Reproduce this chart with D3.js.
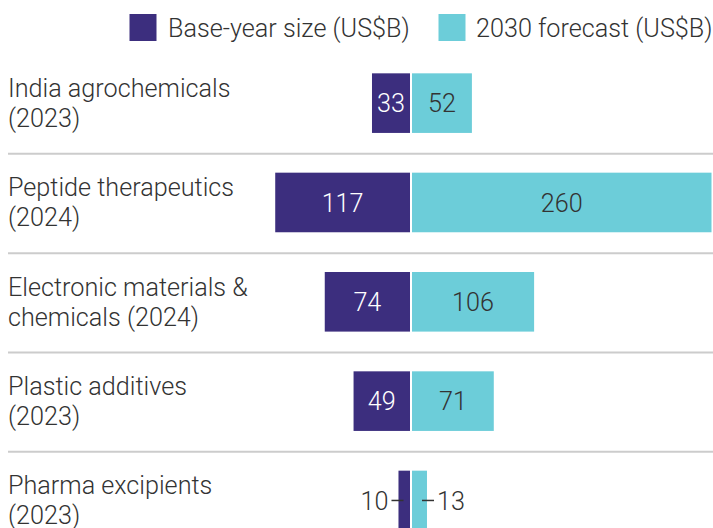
<!DOCTYPE html>
<html>
<head>
<meta charset="utf-8">
<script src="https://cdn.jsdelivr.net/npm/d3@7"></script>
<style>
  body { margin: 0; background: #fff; }
  svg { display: block; font-family: Roboto, "Noto Sans", sans-serif; font-weight: 300; }
</style>
</head>
<body>
<div id="chart"></div>
<script>
// data
const categories = [
    ['India agrochemicals', '(2023)'],
    ['Peptide therapeutics', '(2024)'],
    ['Electronic materials &', 'chemicals (2024)'],
    ['Plastic additives', '(2023)'],
    ['Pharma excipients', '(2023)']
];
const baseValues = [33, 117, 74, 49, 10];
const forecastValues = [52, 260, 106, 71, 13];
const seriesNames = ['Base-year size (US$B)', '2030 forecast (US$B)'];

const width = 713, height = 528;
const purple = '#3c2e7e';
const cyan = '#6ccdd9';
const textColor = '#333';
const centerL = 410, centerR = 412;
const fontSize = '25.2px';

const svg = d3.select('#chart')
    .append('svg')
    .attr('width', width)
    .attr('height', height);

const rows = categories.map((c, i) => ({
    label: c, base: baseValues[i], forecast: forecastValues[i], key: c[0]
}));

const y = d3.scaleBand()
    .domain(rows.map(d => d.key))
    .range([33.6, 570])
    .paddingInner(0.4)
    .paddingOuter(0.4);

// magnitude scale, shared by both sides
const x = d3.scaleLinear()
    .domain([0, 260])
    .range([0, 299.5]);

// legend
const legend = svg.append('g');
const legendX = [129.5, 438.5];
const textX = [168, 476];
[purple, cyan].forEach((col, i) => {
    legend.append('rect')
        .attr('x', legendX[i]).attr('y', 14)
        .attr('width', 27).attr('height', 27)
        .attr('fill', col);
    legend.append('text')
        .attr('x', textX[i]).attr('y', 37)
        .style('font-size', fontSize)
        .attr('fill', textColor)
        .text(seriesNames[i]);
});

// separators
svg.selectAll('.sep')
    .data(rows.slice(0, -1))
    .enter().append('line')
    .attr('class', 'sep')
    .attr('x1', 8).attr('x2', width)
    .attr('y1', d => y(d.key) + y.bandwidth() + y.step() * 0.2 + 1)
    .attr('y2', d => y(d.key) + y.bandwidth() + y.step() * 0.2 + 1)
    .attr('stroke', '#cccccc')
    .attr('stroke-width', 2);

// category labels
const labels = svg.selectAll('.cat')
    .data(rows)
    .enter().append('text')
    .attr('class', 'cat')
    .attr('x', 8)
    .attr('fill', textColor)
    .style('font-size', fontSize);

labels.each(function(d) {
    const cy = y(d.key) + y.bandwidth() / 2;
    const t = d3.select(this);
    t.append('tspan').attr('x', 8).attr('y', cy - 6).text(d.label[0]);
    t.append('tspan').attr('x', 8).attr('y', cy + 24).text(d.label[1]);
});

// bars
svg.selectAll('.bar-base')
    .data(rows)
    .enter().append('rect')
    .attr('class', 'bar-base')
    .attr('x', d => centerL - x(d.base))
    .attr('y', d => y(d.key))
    .attr('width', d => x(d.base))
    .attr('height', y.bandwidth())
    .attr('fill', purple);

svg.selectAll('.bar-fc')
    .data(rows)
    .enter().append('rect')
    .attr('class', 'bar-fc')
    .attr('x', centerR)
    .attr('y', d => y(d.key))
    .attr('width', d => x(d.forecast))
    .attr('height', y.bandwidth())
    .attr('fill', cyan);

// value labels
const minInside = 30;
rows.forEach(d => {
    const cy = y(d.key) + y.bandwidth() / 2;
    const wb = x(d.base), wf = x(d.forecast);

    if (wb >= minInside) {
        svg.append('text')
            .attr('x', centerL - wb / 2).attr('y', cy).attr('dy', '0.36em')
            .attr('text-anchor', 'middle')
            .attr('fill', '#fff')
            .style('font-size', fontSize)
            .text(d.base);
    } else {
        const edge = centerL - wb;
        svg.append('line')
            .attr('x1', edge - 7).attr('x2', edge + 5)
            .attr('y1', cy).attr('y2', cy)
            .attr('stroke', textColor).attr('stroke-width', 1.5);
        svg.append('text')
            .attr('x', edge - 10).attr('y', cy).attr('dy', '0.36em')
            .attr('text-anchor', 'end')
            .attr('fill', textColor)
            .style('font-size', fontSize)
            .text(d.base);
    }

    if (wf >= minInside) {
        svg.append('text')
            .attr('x', centerR + wf / 2).attr('y', cy).attr('dy', '0.36em')
            .attr('text-anchor', 'middle')
            .attr('fill', textColor)
            .style('font-size', fontSize)
            .text(d.forecast);
    } else {
        const edge = centerR + wf;
        svg.append('line')
            .attr('x1', edge - 5).attr('x2', edge + 7)
            .attr('y1', cy).attr('y2', cy)
            .attr('stroke', textColor).attr('stroke-width', 1.5);
        svg.append('text')
            .attr('x', edge + 10).attr('y', cy).attr('dy', '0.36em')
            .attr('text-anchor', 'start')
            .attr('fill', textColor)
            .style('font-size', fontSize)
            .text(d.forecast);
    }
});
</script>
</body>
</html>
